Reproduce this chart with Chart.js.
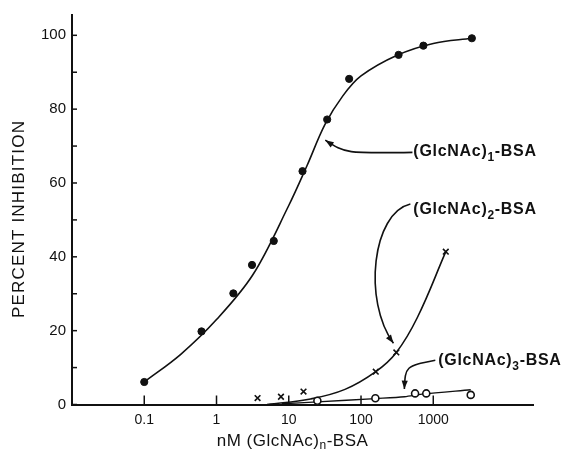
<!DOCTYPE html>
<html>
<head>
<meta charset="utf-8">
<script src="https://cdn.jsdelivr.net/npm/chart.js@4.4.1/dist/chart.umd.min.js"></script>
<style>
html,body{margin:0;padding:0;background:#fff;}
#wrap{width:562px;height:450px;}
</style>
</head>
<body>
<div id="wrap"><canvas id="c" width="562" height="450"></canvas></div>
<script>
// ---- data ----
const xTickValues = [0.1, 1, 10, 100, 1000];
const xTickLabels = ['0.1', '1', '10', '100', '1000'];
const yTickLabelValues = [0, 20, 40, 60, 80, 100];

// (GlcNAc)1-BSA measured points and drawn curve
const s1X = [0.1, 0.62, 1.71, 3.1, 6.2, 15.5, 34, 68.5, 331, 730, 3420];
const s1Y = [6.1, 19.8, 30.1, 37.8, 44.3, 63.2, 77.2, 88.2, 94.7, 97.2, 99.2];
const c1X = [0.1, 0.32, 1, 3.2, 10, 17.8, 31.6, 56, 100, 316, 1000, 3420];
const c1Y = [6.1, 13.6, 23.0, 35.2, 53.9, 64.6, 75.8, 83.6, 89.0, 94.6, 97.8, 99.2];

// (GlcNAc)2-BSA
const s2X = [3.7, 7.8, 16, 160, 308, 1490];
const s2Y = [1.75, 2.1, 3.5, 8.9, 14.1, 41.4];
const c2X = [5, 20, 60, 160, 308, 600, 1490];
const c2Y = [0, 1.5, 4.1, 8.9, 14.1, 23.5, 41.4];

// (GlcNAc)3-BSA
const s3X = [24.9, 158, 560, 800, 3300];
const s3Y = [1.0, 1.7, 3.0, 3.0, 2.6];
const c3X = [8, 25, 158, 400, 700, 3300];
const c3Y = [0.2, 0.7, 1.6, 2.1, 2.8, 4.0];

// annotation labels & arrows (data coordinates)
const labelNames = [['(GlcNAc)', '1', '-BSA'], ['(GlcNAc)', '2', '-BSA'], ['(GlcNAc)', '3', '-BSA']];
const labelAnchorX = [530, 530, 1172];
const labelAnchorY = [67.2, 51.6, 10.6];
// arrows: start, control1, control2, end (x values / y values)
const arrowX = [[515, 61, 61, 32], [482, 144, 105, 281], [1067, 411, 411, 398]];
const arrowY = [[68.3, 68.0, 68.0, 71.6], [54.3, 51.9, 28.2, 16.6], [12.0, 10.4, 10.4, 4.2]];

const xTitleParts = ['nM (GlcNAc)', 'n', '-BSA'];
const yTitle = 'PERCENT INHIBITION';

const pts = (xs, ys) => xs.map((x, i) => ({x: x, y: ys[i]}));
const INK = '#111';
const FONT = '"Liberation Sans", Arial, Helvetica, sans-serif';

function drawRich(ctx, parts, x, y, size, align, spacing) {
  ctx.save();
  if ('letterSpacing' in ctx) ctx.letterSpacing = spacing + 'px';
  const main = 'bold ' + size + 'px ' + FONT;
  const sub = 'bold ' + Math.round(size * 0.72) + 'px ' + FONT;
  let w = 0;
  const widths = parts.map((t, i) => { ctx.font = (i === 1 ? sub : main); const m = ctx.measureText(t).width; w += m; return m; });
  let cx = align === 'center' ? x - w / 2 : x;
  ctx.textBaseline = 'alphabetic';
  ctx.textAlign = 'left';
  ctx.fillStyle = INK;
  parts.forEach((t, i) => {
    ctx.font = (i === 1 ? sub : main);
    ctx.fillText(t, cx, i === 1 ? y + size * 0.3 : y);
    cx += widths[i];
  });
  ctx.restore();
}

const decorPlugin = {
  id: 'decor',
  afterDraw(chart) {
    const ctx = chart.ctx;
    const xs = chart.scales.x, ys = chart.scales.y;
    const area = chart.chartArea;
    ctx.save();
    ctx.strokeStyle = INK;
    ctx.lineWidth = 1.5;
    // inward x ticks
    xTickValues.forEach(v => {
      const px = xs.getPixelForValue(v);
      ctx.beginPath(); ctx.moveTo(px, area.bottom); ctx.lineTo(px, area.bottom - 9); ctx.stroke();
    });
    // inward y ticks every 10
    for (let v = 0; v <= 100; v += 10) {
      const py = ys.getPixelForValue(v);
      ctx.beginPath(); ctx.moveTo(area.left, py); ctx.lineTo(area.left + 5, py); ctx.stroke();
    }
    // arrows
    arrowX.forEach((ax, k) => {
      const ay = arrowY[k];
      const p = ax.map((x, i) => [xs.getPixelForValue(x), ys.getPixelForValue(ay[i])]);
      ctx.beginPath();
      ctx.moveTo(p[0][0], p[0][1]);
      ctx.bezierCurveTo(p[1][0], p[1][1], p[2][0], p[2][1], p[3][0], p[3][1]);
      ctx.lineWidth = 1.6;
      ctx.stroke();
      // arrowhead
      const dx = p[3][0] - p[2][0], dy = p[3][1] - p[2][1];
      const a = Math.atan2(dy, dx);
      const L = 9, W = 0.35;
      ctx.beginPath();
      ctx.moveTo(p[3][0], p[3][1]);
      ctx.lineTo(p[3][0] - L * Math.cos(a - W), p[3][1] - L * Math.sin(a - W));
      ctx.lineTo(p[3][0] - L * Math.cos(a + W), p[3][1] - L * Math.sin(a + W));
      ctx.closePath();
      ctx.fillStyle = INK;
      ctx.fill();
    });
    // series labels
    labelNames.forEach((parts, k) => {
      drawRich(ctx, parts, xs.getPixelForValue(labelAnchorX[k]), ys.getPixelForValue(labelAnchorY[k]), 16, 'left', 0.7);
    });
    // x title
    ctx.save();
    if ('letterSpacing' in ctx) ctx.letterSpacing = '0.5px';
    const xMain = '17px ' + FONT, xSub = '12px ' + FONT;
    let w = 0;
    const ws = xTitleParts.map((t, i) => { ctx.font = i === 1 ? xSub : xMain; const m = ctx.measureText(t).width; w += m; return m; });
    let cx = (area.left + area.right) / 2 - 10 - w / 2;
    ctx.fillStyle = INK; ctx.textBaseline = 'alphabetic'; ctx.textAlign = 'left';
    xTitleParts.forEach((t, i) => { ctx.font = i === 1 ? xSub : xMain; ctx.fillText(t, cx, i === 1 ? 449 : 446); cx += ws[i]; });
    ctx.restore();
    // y title
    ctx.save();
    if ('letterSpacing' in ctx) ctx.letterSpacing = '1.2px';
    ctx.translate(24, 219);
    ctx.rotate(-Math.PI / 2);
    ctx.font = '17px ' + FONT;
    ctx.fillStyle = INK; ctx.textAlign = 'center'; ctx.textBaseline = 'alphabetic';
    ctx.fillText(yTitle, 0, 0);
    ctx.restore();
    ctx.restore();
  }
};

new Chart(document.getElementById('c'), {
  type: 'scatter',
  data: {
    datasets: [
      {label: 's1', data: pts(s1X, s1Y), pointStyle: 'circle', pointRadius: 3.6, backgroundColor: INK, borderColor: INK, borderWidth: 1, showLine: false, order: 0},
      {label: 's2', data: pts(s2X, s2Y), pointStyle: 'crossRot', pointRadius: 4, borderColor: INK, borderWidth: 1.6, showLine: false, order: 0},
      {label: 's3', data: pts(s3X, s3Y), pointStyle: 'circle', pointRadius: 3.5, backgroundColor: '#fff', borderColor: INK, borderWidth: 1.6, showLine: false, order: 0},
      {label: 'c1', data: pts(c1X, c1Y), showLine: true, pointRadius: 0, borderColor: INK, borderWidth: 1.6, tension: 0.35, order: 1},
      {label: 'c2', data: pts(c2X, c2Y), showLine: true, pointRadius: 0, borderColor: INK, borderWidth: 1.6, tension: 0.4, order: 1},
      {label: 'c3', data: pts(c3X, c3Y), showLine: true, pointRadius: 0, borderColor: INK, borderWidth: 1.4, tension: 0.3, order: 1}
    ]
  },
  options: {
    responsive: false,
    animation: false,
    events: [],
    layout: {padding: {left: 0, right: 29, top: 12, bottom: 0}},
    plugins: {legend: {display: false}, tooltip: {enabled: false}},
    scales: {
      x: {
        type: 'logarithmic', min: 0.01, max: 24000,
        afterFit: s => { s.height = 45.5; },
        afterBuildTicks: s => { s.ticks = xTickValues.map(v => ({value: v})); },
        ticks: {
          autoSkip: false, maxRotation: 0, padding: 7, color: INK,
          font: {family: FONT, size: 14},
          callback: (v) => { const i = xTickValues.indexOf(v); return i >= 0 ? xTickLabels[i] : ''; }
        },
        grid: {drawOnChartArea: false, drawTicks: false},
        border: {display: true, color: INK, width: 2}
      },
      y: {
        min: 0, max: 105.5,
        afterFit: s => { s.width = 72; },
        afterBuildTicks: s => { s.ticks = yTickLabelValues.map(v => ({value: v})); },
        ticks: {
          padding: 6, color: INK,
          font: {family: FONT, size: 15},
          callback: v => String(v)
        },
        grid: {drawOnChartArea: false, drawTicks: false},
        border: {display: true, color: INK, width: 2}
      }
    }
  },
  plugins: [decorPlugin]
});
</script>
</body>
</html>
